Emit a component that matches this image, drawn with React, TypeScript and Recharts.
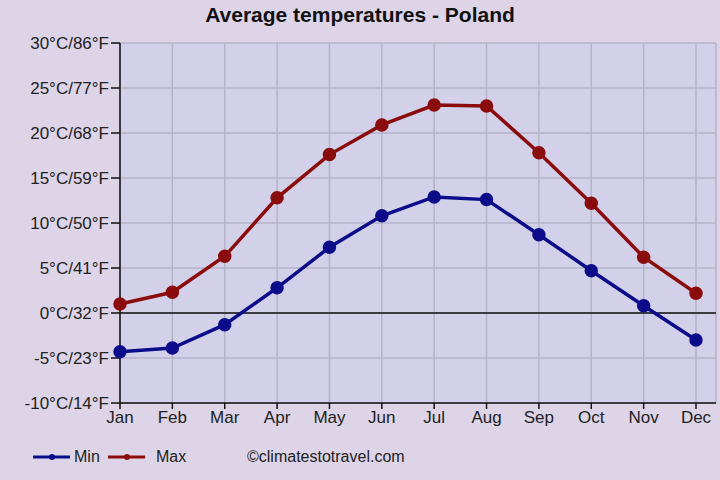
import React from "react";
import {
  LineChart,
  Line,
  XAxis,
  YAxis,
  CartesianGrid,
  ReferenceLine,
} from "recharts";

// Monthly averages for Poland, °C
const months = ["Jan", "Feb", "Mar", "Apr", "May", "Jun", "Jul", "Aug", "Sep", "Oct", "Nov", "Dec"];
const minTemps = [-4.3, -3.9, -1.3, 2.8, 7.3, 10.8, 12.9, 12.6, 8.7, 4.7, 0.8, -3.0];
const maxTemps = [1.0, 2.3, 6.3, 12.8, 17.6, 20.9, 23.1, 23.0, 17.8, 12.2, 6.2, 2.2];

const yTicks = [-10, -5, 0, 5, 10, 15, 20, 25, 30];
const yTickLabels = [
  "-10°C/14°F",
  "-5°C/23°F",
  "0°C/32°F",
  "5°C/41°F",
  "10°C/50°F",
  "15°C/59°F",
  "20°C/68°F",
  "25°C/77°F",
  "30°C/86°F",
];

const data = months.map((m, i) => ({ month: m, min: minTemps[i], max: maxTemps[i] }));

const FONT = "'Liberation Sans', Arial, sans-serif";
const BLUE = "#0c0c8a";
const RED = "#8a0c0c";

function LegendItem({ color, label, width, gap }: { color: string; label: string; width: number; gap: number }) {
  return (
    <span style={{ display: "inline-flex", alignItems: "center", width }}>
      <svg width={38} height={10} style={{ marginRight: gap }}>
        <line x1={0} y1={5} x2={37} y2={5} stroke={color} strokeWidth={3} />
        <circle cx={19} cy={5} r={3} fill={color} />
      </svg>
      {label}
    </span>
  );
}

export default function App() {
  return (
    <div
      style={{
        position: "absolute",
        left: 0,
        top: 0,
        width: 720,
        height: 480,
        background: "#ddd4e7",
        fontFamily: FONT,
      }}
    >
      <div
        style={{
          position: "absolute",
          top: 3,
          width: 720,
          textAlign: "center",
          fontSize: 21,
          fontWeight: "bold",
          color: "#111",
        }}
      >
        Average temperatures - Poland
      </div>
      <LineChart
        width={720}
        height={480}
        data={data}
        margin={{ top: 43, right: 4, left: 0, bottom: 0 }}
      >
        <CartesianGrid stroke="#b6b3c9" strokeWidth={1.5} fill="#d3d1ea" />
        <XAxis
          dataKey="month"
          height={77}
          padding={{ left: 0, right: 20 }}
          stroke="#111"
          strokeWidth={1.5}
          tickSize={6}
          tick={{ fill: "#222", fontSize: 17, fontFamily: FONT }}
        />
        <YAxis
          width={120}
          domain={[-10, 30]}
          ticks={yTicks}
          interval={0}
          stroke="#111"
          strokeWidth={1.5}
          tickSize={9}
          tickFormatter={(v: number) => yTickLabels[yTicks.indexOf(v)]}
          tick={{ fill: "#222", fontSize: 17, fontFamily: FONT }}
        />
        <ReferenceLine y={0} stroke="#111" strokeWidth={1.5} />
        <Line
          dataKey="min"
          stroke={BLUE}
          strokeWidth={3.5}
          dot={{ r: 5, fill: BLUE, stroke: BLUE }}
          isAnimationActive={false}
        />
        <Line
          dataKey="max"
          stroke={RED}
          strokeWidth={3.5}
          dot={{ r: 5, fill: RED, stroke: RED }}
          isAnimationActive={false}
        />
      </LineChart>
      <div
        style={{
          position: "absolute",
          left: 33,
          top: 448,
          display: "flex",
          alignItems: "center",
          fontSize: 16,
          color: "#222",
        }}
      >
        <LegendItem color={BLUE} label="Min" width={75} gap={3} />
        <LegendItem color={RED} label="Max" width={139} gap={10} />
        <span>©climatestotravel.com</span>
      </div>
    </div>
  );
}
